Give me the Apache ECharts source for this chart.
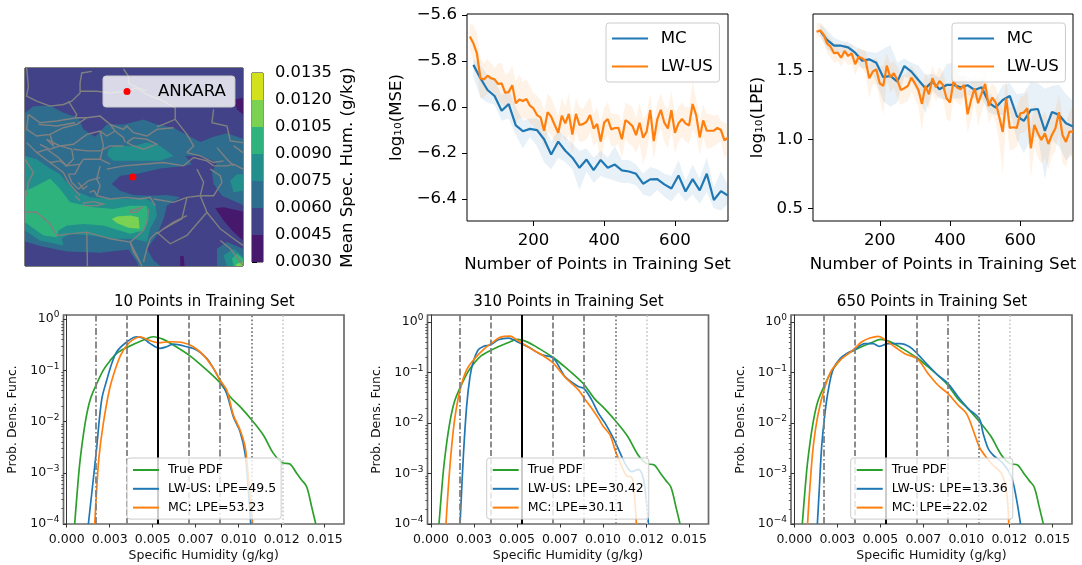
<!DOCTYPE html>
<html><head><meta charset="utf-8">
<style>html,body{margin:0;padding:0;background:#fff}#c{width:1082px;height:565px}</style>
<script src="https://cdn.jsdelivr.net/npm/echarts@6/dist/echarts.min.js"></script>
</head><body><div id="c"></div>
<script>
// ---------- training curves ----------
const mcN=[30,50,70,90,110,130,150,170,190,210,230,250,270,290,310,330,350,370,390,410,430,450,470,490,510,530,550,570,590,610,630,650,670,690,710,730,750];
const lwN=[20,30,40,50,60,70,80,90,100,110,120,130,140,150,160,170,180,190,200,210,220,230,240,250,260,270,280,290,300,310,320,330,340,350,360,370,380,390,400,410,420,430,440,450,460,470,480,490,500,510,520,530,540,550,560,570,580,590,600,610,620,630,640,650,660,670,680,690,700,710,720,730,740,750];
const mseMC=[-5.817,-5.875,-5.926,-5.952,-6.016,-5.987,-6.08,-6.105,-6.095,-6.10,-6.14,-6.206,-6.15,-6.19,-6.22,-6.264,-6.228,-6.274,-6.23,-6.264,-6.25,-6.275,-6.28,-6.29,-6.333,-6.314,-6.313,-6.336,-6.354,-6.297,-6.367,-6.313,-6.362,-6.29,-6.404,-6.365,-6.385];
const mseMCHi=[-5.79,-5.82,-5.86,-5.88,-5.95,-5.92,-6.0,-6.06,-6.05,-6.05,-6.08,-6.15,-6.10,-6.13,-6.16,-6.19,-6.18,-6.22,-6.19,-6.22,-6.17,-6.23,-6.23,-6.25,-6.29,-6.26,-6.27,-6.29,-6.30,-6.23,-6.32,-6.25,-6.31,-6.22,-6.35,-6.28,-6.34];
const mseMCLo=[-5.87,-5.96,-5.98,-5.99,-6.06,-6.05,-6.12,-6.18,-6.13,-6.17,-6.24,-6.27,-6.22,-6.24,-6.27,-6.36,-6.28,-6.33,-6.30,-6.31,-6.32,-6.33,-6.33,-6.34,-6.38,-6.39,-6.36,-6.39,-6.41,-6.37,-6.41,-6.38,-6.42,-6.37,-6.44,-6.45,-6.42];
const mseLW=[-5.694,-5.723,-5.767,-5.875,-5.88,-5.864,-5.875,-5.88,-5.90,-5.897,
-5.938,-5.935,-5.905,-5.984,-5.967,-5.974,-5.965,-5.994,-6.006,-6.035,
-6.045,-6.103,-6.022,-6.042,-6.078,-6.112,-6.038,-6.071,-6.03,-6.12,
-6.03,-6.078,-6.074,-6.064,-6.035,-6.093,-6.074,-6.15,-6.067,-6.052,
-6.097,-6.091,-6.09,-6.14,-6.057,-6.068,-6.083,-6.122,-6.068,-6.133,
-6.107,-6.013,-6.148,-6.054,-6.012,-6.068,-6.093,-6.014,-6.112,-6.071,
-6.052,-6.071,-6.08,-5.987,-6.035,-6.132,-6.058,-6.103,-6.103,-6.103,
-6.091,-6.10,-6.145,-6.133];
const mseLWHi=[-5.64,-5.645,-5.68,-5.79,-5.81,-5.79,-5.81,-5.83,-5.81,-5.81,
-5.86,-5.85,-5.82,-5.89,-5.86,-5.89,-5.88,-5.91,-5.94,-5.95,
-5.97,-6.02,-5.94,-5.96,-6.0,-6.04,-5.96,-6.0,-5.94,-6.05,
-5.96,-6.0,-6.01,-5.98,-5.96,-6.03,-6.0,-6.07,-6.0,-5.98,
-6.03,-6.03,-6.03,-6.07,-5.98,-5.99,-6.0,-6.05,-5.98,-6.05,
-6.03,-5.94,-6.07,-5.98,-5.94,-5.99,-6.01,-5.93,-6.03,-6.0,
-5.98,-6.0,-6.0,-5.89,-5.97,-6.06,-5.99,-6.03,-6.03,-6.04,
-6.03,-6.06,-6.07,-6.07];
const mseLWLo=[-5.75,-5.80,-5.85,-5.96,-5.96,-5.94,-5.94,-5.95,-5.98,-5.98,
-6.01,-6.0,-5.99,-6.07,-6.05,-6.05,-6.05,-6.07,-6.08,-6.10,
-6.12,-6.18,-6.11,-6.12,-6.15,-6.19,-6.11,-6.15,-6.12,-6.2,
-6.11,-6.15,-6.15,-6.14,-6.11,-6.17,-6.15,-6.24,-6.15,-6.12,
-6.17,-6.17,-6.16,-6.22,-6.14,-6.16,-6.17,-6.2,-6.16,-6.25,
-6.2,-6.1,-6.23,-6.14,-6.09,-6.15,-6.18,-6.1,-6.2,-6.15,
-6.13,-6.15,-6.16,-6.1,-6.12,-6.21,-6.13,-6.18,-6.18,-6.17,
-6.16,-6.15,-6.22,-6.2];
const lpeMC=[1.794,1.726,1.684,1.684,1.672,1.633,1.575,1.585,1.56,1.454,1.464,1.422,1.536,1.495,1.434,1.374,1.422,1.367,1.398,1.398,1.381,1.396,1.362,1.381,1.27,1.233,1.289,1.318,1.172,1.136,1.216,1.223,1.063,1.201,1.18,1.119,1.095];
const lpeMCHi=[1.84,1.80,1.74,1.72,1.71,1.68,1.65,1.64,1.63,1.66,1.69,1.56,1.59,1.56,1.54,1.47,1.48,1.45,1.55,1.56,1.46,1.46,1.43,1.45,1.34,1.30,1.40,1.41,1.33,1.34,1.42,1.41,1.37,1.39,1.40,1.33,1.28];
const lpeMCLo=[1.76,1.66,1.62,1.63,1.62,1.58,1.52,1.52,1.42,1.28,1.24,1.27,1.46,1.43,1.33,1.19,1.36,1.30,1.29,1.30,1.30,1.33,1.30,1.30,1.20,1.18,1.18,1.22,1.00,0.90,1.00,1.03,0.71,1.00,0.95,0.85,0.90];
const lpeLW=[1.786,1.794,1.767,1.70,1.677,1.629,1.633,1.597,1.646,1.609,
1.629,1.549,1.604,1.592,1.573,1.447,1.495,1.512,1.41,1.391,
1.539,1.454,1.483,1.434,1.362,1.374,1.391,1.451,1.41,1.362,
1.26,1.391,1.33,1.447,1.381,1.427,1.398,1.301,1.27,1.427,
1.379,1.367,1.398,1.184,1.289,1.374,1.265,1.337,1.405,1.245,
1.306,1.27,1.167,1.056,1.301,1.085,1.09,1.085,1.192,1.197,
1.228,0.937,1.107,1.046,0.998,1.046,0.968,1.034,1.083,1.199,
1.034,0.983,1.058,1.058];
const lpeLWHi=[1.85,1.85,1.83,1.77,1.74,1.70,1.70,1.67,1.71,1.68,
1.70,1.63,1.67,1.66,1.65,1.54,1.58,1.60,1.53,1.54,
1.63,1.55,1.57,1.53,1.47,1.47,1.49,1.54,1.50,1.46,
1.38,1.49,1.44,1.54,1.47,1.53,1.49,1.40,1.39,1.55,
1.47,1.46,1.49,1.33,1.42,1.48,1.42,1.44,1.51,1.36,
1.41,1.38,1.30,1.22,1.44,1.24,1.24,1.23,1.31,1.32,
1.35,1.10,1.26,1.20,1.16,1.21,1.13,1.19,1.22,1.33,
1.18,1.13,1.20,1.25];
const lpeLWLo=[1.74,1.75,1.71,1.63,1.60,1.56,1.57,1.53,1.58,1.54,
1.56,1.47,1.53,1.52,1.48,1.30,1.40,1.40,1.30,1.18,
1.44,1.34,1.38,1.30,1.25,1.27,1.28,1.35,1.30,1.24,
1.06,1.28,1.22,1.33,1.28,1.32,1.30,1.15,1.13,1.30,
1.27,1.25,1.30,1.05,1.15,1.28,1.10,1.20,1.28,1.12,
1.18,1.13,0.98,0.75,1.15,0.92,0.93,0.95,1.05,1.05,
1.08,0.72,0.95,0.87,0.82,0.87,0.78,0.88,0.92,1.05,
0.83,0.80,0.90,0.85];

// ---------- PDF curves ----------
const trueX=[.000465,.00062,.00078,.00107,.00136,.00171,.00213,.00252,.00291,.00351,.00446,.00504,.00562,.0062,.00711,.00775,.00853,.00891,.0095,.01008,.01076,.01143,.01202,.01254,.01298,.01337,.01366,.01395,.01424,.01448];
const trueY=[1e-4,4.6e-4,.00177,.0092,.0263,.0515,.101,.154,.214,.28,.389,.452,.401,.311,.198,.132,.0773,.0573,.0305,.0195,.0107,.00546,.00239,.00157,.00148,.000975,.000723,.000535,.000218,1e-4];
const lw10X=[.00126,.00171,.00203,.00233,.00262,.00291,.00351,.00407,.00446,.00484,.00543,.00581,.0062,.00698,.00756,.00814,.00853,.00891,.0093,.00969,.01008,.01037,.01056,.0107];
const lw10Y=[1e-4,.00239,.0263,.0645,.136,.231,.361,.452,.42,.335,.268,.288,.325,.288,.248,.171,.109,.0645,.0355,.0124,.00634,.00239,.00046,1e-4];
const mc10X=[.00163,.00174,.00188,.00213,.00248,.00281,.00314,.00351,.00388,.00426,.00475,.00533,.00601,.00678,.00736,.00795,.00853,.00891,.0093,.00969,.01008,.01037,.01056,.01081];
const mc10Y=[1e-4,.00046,.00206,.0092,.0412,.101,.198,.311,.401,.452,.389,.345,.361,.345,.288,.198,.109,.0645,.0412,.0134,.00683,.00323,.00084,1e-4];
const lw310X=[.00169,.00188,.00207,.00227,.00246,.00275,.00304,.00347,.00391,.0045,.00498,.00566,.00643,.00711,.00779,.00857,.00891,.00934,.00973,.01012,.0106,.01109,.01138,.01167,.01205,.01234,.01254,.01264];
const lw310Y=[1e-4,.00217,.0212,.0836,.166,.283,.329,.355,.447,.482,.414,.319,.225,.193,.0836,.053,.0476,.0288,.0157,.00993,.005,.00217,.00137,.00109,.00121,.000805,.000257,1e-4];
const mc310X=[.00087,.00101,.0012,.0014,.00169,.00207,.00256,.00314,.00353,.00401,.00459,.00498,.00566,.00643,.00711,.00779,.00857,.00891,.00934,.00973,.01002,.01041,.0107,.01109,.01138,.01167,.01182,.01194];
const mc310Y=[1e-4,.00055,.00342,.0135,.0455,.113,.193,.305,.383,.497,.528,.447,.319,.225,.154,.0811,.0455,.0311,.0197,.0125,.00853,.00582,.00294,.00137,.000895,.000843,.000406,1e-4];
const lw650X=[.00134,.00145,.00159,.00178,.00201,.00227,.00265,.00304,.0035,.0041,.00458,.00494,.00546,.00614,.00672,.00714,.00778,.00836,.00894,.00953,.01011,.01075,.01098,.01127,.01156,.01214,.01262,.01291,.01315];
const lw650Y=[1e-4,.00047,.00338,.0154,.0519,.119,.188,.237,.284,.373,.373,.33,.373,.373,.321,.237,.139,.0883,.0604,.0329,.0194,.0123,.0062,.00313,.00231,.00158,.000863,.000321,1e-4];
const mc650X=[.00077,.00091,.0011,.00139,.00178,.00217,.00265,.00314,.0035,.00391,.0044,.00488,.00532,.00585,.00643,.00714,.00778,.00836,.00894,.00953,.01001,.0104,.01075,.01107,.01146,.01204,.01233,.01247];
const mc650Y=[1e-4,.00055,.00338,.0154,.0519,.111,.175,.237,.297,.403,.483,.521,.434,.321,.237,.188,.0952,.056,.0383,.0225,.0154,.00721,.00338,.00231,.00158,.001,.00047,1e-4];

const refLines=[.0017,.0035,.0053,.0071,.0089,.01074,.01254];
const humTicks=[0,.0025,.005,.0075,.01,.0125,.015];
const humLabels=['0.000','0.003','0.005','0.007','0.010','0.012','0.015'];
const logTicks=[1e-4,1e-3,1e-2,1e-1,1];
const logLabels=['{a|10}{b|−4}','{a|10}{b|−3}','{a|10}{b|−2}','{a|10}{b|−1}','{a|10}{b|0}'];
const logMinor=[2e-4,3e-4,4e-4,5e-4,6e-4,7e-4,8e-4,9e-4,2e-3,3e-3,4e-3,5e-3,6e-3,7e-3,8e-3,9e-3,2e-2,3e-2,4e-2,5e-2,6e-2,7e-2,8e-2,9e-2,.2,.3,.4,.5,.6,.7,.8,.9];

// ---------- colour bar ----------
const cbLevels=[.003,.0045,.006,.0075,.009,.0105,.012,.0135];
const cbColors=['#46196c','#414287','#2f6d8e','#238f8c','#2fb37c','#7bd151','#d2e11b'];
const cbLabels=['0.0030','0.0045','0.0060','0.0075','0.0090','0.0105','0.0120','0.0135'];

// ---------- map (contour bands and borders, in map-grid units) ----------
const mapXRange=[75,728], mapYRange=[55,652];
const ankara=[398,384];
const mapBands=[
 [1,[[75,55],[728,55],[728,652],[75,652]]],
 [2,[[75,190],[100,170],[150,168],[190,190],[235,205],[250,240],[285,262],[320,225],[370,225],[430,210],[470,225],[520,235],[570,262],[600,278],[640,262],[680,252],[728,268],[728,652],[75,652]]],
 [1,[[335,405],[360,380],[420,372],[480,358],[540,352],[575,345],[555,320],[600,318],[650,340],[635,370],[640,405],[665,440],[728,468],[728,652],[480,652],[460,635],[440,600],[470,560],[490,510],[500,470],[540,445],[500,438],[450,440],[400,438],[360,425]]],
 [1,[[75,578],[120,592],[200,608],[300,612],[385,602],[410,640],[415,652],[75,652]]],
 [2,[[650,600],[680,580],[728,600],[728,652],[650,652]]],
 [3,[[325,300],[345,290],[400,290],[440,280],[480,290],[520,320],[480,335],[400,335],[340,335],[322,320]]],
 [3,[[690,395],[710,375],[728,375],[728,425],[700,430]]],
 [3,[[75,320],[110,330],[145,355],[180,375],[200,400],[225,425],[270,445],[330,450],[380,450],[430,445],[465,465],[470,500],[450,540],[440,580],[400,570],[340,570],[270,560],[210,555],[185,570],[190,590],[120,575],[75,545]]],
 [3,[[670,620],[700,600],[728,625],[728,652],[680,652]]],
 [4,[[75,425],[100,415],[150,388],[180,420],[210,460],[280,475],[340,480],[390,470],[440,470],[445,510],[430,545],[390,555],[310,530],[250,525],[200,530],[175,545],[170,565],[130,560],[75,520]]],
 [4,[[695,630],[710,615],[728,630],[728,652],[700,652]]],
 [5,[[335,510],[350,503],[390,500],[415,505],[418,540],[385,537],[350,522]]],
 [5,[[710,645],[728,640],[728,652],[705,652]]],
 [0,[[703,150],[728,145],[728,195],[710,180]]],
 [0,[[645,478],[670,475],[728,488],[728,575],[695,545],[670,515]]],
 [0,[[540,622],[550,622],[553,652],[540,652]]]
];
const mapBorders=[
 [[80,55],[85,110],[80,140],[110,155],[150,170],[190,165],[215,155],[240,130],[240,100],[245,70],[275,65]],
 [[240,125],[290,125],[330,130],[375,125],[410,115],[440,135],[480,150],[525,175],[525,210],[490,225],[470,232]],
 [[370,58],[385,80],[385,100],[400,110],[440,125]],
 [[205,155],[230,195],[225,205]],
 [[85,195],[120,220],[170,215],[230,205],[260,205],[300,200],[330,225],[370,240],[380,230],[400,250],[440,260],[470,240],[520,235]],
 [[330,225],[345,245],[370,265],[375,280]],
 [[85,195],[80,240],[110,260],[150,255],[190,235],[230,225],[260,205]],
 [[115,225],[170,230],[225,220]],
 [[140,270],[180,290],[220,285],[260,255],[300,245],[320,260],[345,245]],
 [[220,300],[260,305],[300,305],[330,290],[370,290]],
 [[250,330],[300,330],[330,345]],
 [[180,290],[215,300],[220,330],[200,350],[240,345],[250,330]],
 [[150,255],[160,290],[140,270]],
 [[80,280],[110,310],[150,340],[190,370],[205,400],[240,440]],
 [[75,330],[100,370],[85,400],[80,440]],
 [[205,375],[215,400],[235,420],[265,395],[300,385]],
 [[320,360],[370,350],[430,345],[490,340],[550,350],[580,325],[620,335],[640,350]],
 [[300,350],[290,390],[300,410],[290,440],[330,450]],
 [[330,450],[380,445],[420,450],[450,445],[465,470]],
 [[460,450],[520,460],[560,445],[600,440]],
 [[590,360],[610,400],[600,440]],
 [[600,440],[620,490],[660,540],[700,570],[728,590]],
 [[560,445],[545,510],[490,540],[470,555]],
 [[470,550],[510,585],[560,560],[620,490]],
 [[430,640],[440,600],[450,570],[470,550]],
 [[445,480],[440,520],[430,545],[390,580],[410,620],[425,652]],
 [[75,490],[110,490],[150,525],[170,560],[210,555],[260,550],[330,570],[390,580]],
 [[260,550],[262,652]],
 [[390,580],[400,610],[420,640]],
 [[250,462],[280,458],[310,465],[290,470],[250,470],[250,462]],
 [[390,485],[425,475],[410,490],[390,490],[390,485]],
 [[235,400],[250,420],[262,410]],[[268,430],[282,425],[290,440]],[[225,440],[240,455]],
 [[640,350],[680,350],[700,345],[728,360]],
 [[640,180],[635,220],[680,230],[690,275],[728,280]],
 [[650,295],[680,330],[700,350]],
 [[700,290],[728,310]],
 [[560,310],[600,320],[640,340],[670,335]],
 [[630,360],[660,380],[665,400]],
 [[660,575],[690,600],[728,650]],
 [[300,245],[310,290],[300,330]],
 [[380,280],[400,265],[440,270],[470,285],[430,300],[400,290],[380,280]],
 [[525,210],[560,255],[580,290],[560,310]],
 [[120,285],[150,300],[180,290]],
 [[110,310],[140,300],[175,325],[200,350]],
 [[150,340],[180,335],[200,350]],
 [[240,345],[225,375],[205,375]],
 [[600,440],[640,440],[665,400]],
 [[490,540],[520,520],[560,500]]
];

// ---------- helpers ----------
const BLUE='#1f77b4',ORANGE='#ff7f0e',GREEN='#2ca02c';
const zip=(a,b)=>a.map((v,i)=>[v,b[i]]);
const FONT='"DejaVu Sans"';
function band(xi,xs,lo,hi,color){
  return {type:'custom',xAxisIndex:xi,yAxisIndex:xi,clip:true,silent:true,z:1,data:[0],
    renderItem:(p,api)=>{
      const pts=[];
      xs.forEach((x,i)=>pts.push(api.coord([x,hi[i]])));
      for(let i=xs.length-1;i>=0;i--)pts.push(api.coord([xs[i],lo[i]]));
      return {type:'polygon',shape:{points:pts},style:{fill:color,opacity:.1}};
    }};
}
function line(name,xi,data,color,w,smooth){
  return {type:'line',name,xAxisIndex:xi,yAxisIndex:xi,data,symbol:'none',smooth:smooth||false,clip:true,silent:true,z:3,
    lineStyle:{color,width:w},itemStyle:{color}};
}
function legend(names,left,top,fs,itemW,pad,h,gap,tp,hideMarker){
  return {data:names,orient:'vertical',left,top,padding:pad,itemWidth:itemW,itemHeight:h,itemGap:gap,selectedMode:false,z:10,
    backgroundColor:'rgba(255,255,255,0.8)',borderColor:'#ccc',borderWidth:1,borderRadius:3,
    itemStyle:hideMarker?{opacity:0}:{},
    textStyle:{fontFamily:FONT,fontSize:fs,color:'#000',padding:[0,0,0,tp]}};
}
const grids=[],xAxes=[],yAxes=[],series=[],legends=[],titles=[];

// map (axis 0)
grids.push({left:25,top:68,width:218,height:198,show:true,borderColor:'#000',borderWidth:1,backgroundColor:'transparent'});
xAxes.push({type:'value',gridIndex:0,min:mapXRange[0],max:mapXRange[1],show:false});
yAxes.push({type:'value',gridIndex:0,min:mapYRange[0],max:mapYRange[1],inverse:true,show:false});
series.push({type:'custom',xAxisIndex:0,yAxisIndex:0,clip:true,silent:true,z:1,data:mapBands.map((b,i)=>i),
  renderItem:(p,api)=>{const b=mapBands[p.dataIndex];
    return {type:'polygon',shape:{points:b[1].map(c=>api.coord(c))},style:{fill:cbColors[b[0]]}};}});
series.push({type:'custom',xAxisIndex:0,yAxisIndex:0,clip:true,silent:true,z:2,data:mapBorders.map((b,i)=>i),
  renderItem:(p,api)=>({type:'polyline',shape:{points:mapBorders[p.dataIndex].map(c=>api.coord(c))},
    style:{stroke:'#808080',fill:'none',lineWidth:1.4}})});
series.push({type:'scatter',name:'ANKARA',xAxisIndex:0,yAxisIndex:0,data:[ankara],symbolSize:7,silent:true,z:5,itemStyle:{color:'#ff0000',opacity:1}});
legends.push(legend(['ANKARA'],103,76,16.6,7,[7,9,7,20.5],7,0,22.5));

// colour bar (axis 1)
grids.push({left:252,top:73,width:11,height:189,show:true,borderColor:'#222',borderWidth:1});
xAxes.push({type:'value',gridIndex:1,min:0,max:1,show:false});
yAxes.push({type:'value',gridIndex:1,min:cbLevels[0],max:cbLevels[7],position:'right',splitLine:{show:false},
  axisLine:{show:false},axisTick:{customValues:cbLevels,length:5,lineStyle:{color:'#000'}},
  axisLabel:{customValues:cbLevels,formatter:v=>cbLabels[cbLevels.findIndex(l=>Math.abs(l-v)<1e-6)],fontFamily:FONT,fontSize:16.3,color:'#000',margin:12},
  name:'Mean Spec. Hum. (g/kg)',nameLocation:'middle',nameRotate:90,nameGap:76,nameTextStyle:{fontFamily:FONT,fontSize:16.6,color:'#000'}});
series.push({type:'custom',xAxisIndex:1,yAxisIndex:1,silent:true,z:1,data:cbColors.map((c,i)=>i),
  renderItem:(p,api)=>{const i=p.dataIndex,a=api.coord([0,cbLevels[i+1]]),b=api.coord([1,cbLevels[i]]);
    return {type:'rect',shape:{x:a[0],y:a[1],width:b[0]-a[0],height:b[1]-a[1]},style:{fill:cbColors[i]}};}});

// top line panels (axes 2,3)
function topPanel(i,rect,xr,yr,yTicks,yFmt,yName,nameGap,mc,mcLo,mcHi,lw,lwLo,lwHi,lg){
  grids.push({left:rect[0],top:rect[1],width:rect[2],height:rect[3],show:true,borderColor:'#000',borderWidth:1});
  const ax={fontFamily:FONT,fontSize:16.6,color:'#000'};
  xAxes.push({type:'value',gridIndex:i,min:xr[0],max:xr[1],splitLine:{show:false},axisLine:{show:false},
    axisTick:{customValues:[200,400,600],length:5,lineStyle:{color:'#000'}},
    axisLabel:{customValues:[200,400,600],...ax,margin:11.5},
    name:'Number of Points in Training Set',nameLocation:'middle',nameGap:35,nameTextStyle:ax});
  yAxes.push({type:'value',gridIndex:i,min:yr[0],max:yr[1],splitLine:{show:false},axisLine:{show:false},
    axisTick:{customValues:yTicks,length:5,lineStyle:{color:'#000'}},
    axisLabel:{customValues:yTicks,formatter:yFmt,...ax,margin:10},
    name:yName,nameLocation:'middle',nameRotate:90,nameGap,nameTextStyle:ax});
  series.push(band(i,mcN,mcLo,mcHi,BLUE),band(i,lwN,lwLo,lwHi,ORANGE),
    line('MC',i,zip(mcN,mc),BLUE,2.2),line('LW-US',i,zip(lwN,lw),ORANGE,2.2));
  legends.push(legend(['MC','LW-US'],lg[0],lg[1],16.6,36,[7,6.6,7,5],14,11,7.7,true));
}
topPanel(2,[467,14,261,207],[12,750],[-6.495,-5.596],[-6.4,-6.2,-6,-5.8,-5.6],v=>'−'+Math.abs(v).toFixed(1),'log₁₀(MSE)',62,
  mseMC,mseMCLo,mseMCHi,mseLW,mseLWLo,mseLWHi,[606,23]);
topPanel(3,[813,14,260,207],[10,750],[.407,1.915],[.5,1,1.5],v=>v.toFixed(1),'log₁₀(LPE)',47,
  lpeMC,lpeMCLo,lpeMCHi,lpeLW,lpeLWLo,lpeLWHi,[952,23]);

// bottom PDF panels (axes 4,5,6 and minor-tick axes)
function pdfPanel(i,rect,x0,yTop,title,lwName,mcName,lwXY,mcXY,lg){
  const pxPerUnit=17200, xMin=-(x0-rect[0])/pxPerUnit, xMax=(rect[0]+rect[2]-x0)/pxPerUnit;
  grids.push({left:rect[0],top:rect[1],width:rect[2],height:rect[3],show:true,borderColor:'#6a6a6a',borderWidth:1.7});
  const ax={fontFamily:FONT,fontSize:12.5,color:'#111'};
  xAxes.push({type:'value',gridIndex:i,min:xMin,max:xMax,splitLine:{show:false},axisLine:{show:false},
    axisTick:{customValues:humTicks,length:3.5,lineStyle:{color:'#333'}},
    axisLabel:{customValues:humTicks,formatter:v=>humLabels[humTicks.findIndex(t=>Math.abs(t-v)<1e-6)],...ax,margin:9.5},
    name:'Specific Humidity (g/kg)',nameLocation:'middle',nameGap:25,nameTextStyle:ax});
  yAxes.push({type:'log',gridIndex:i,min:1e-4,max:yTop,splitLine:{show:false},axisLine:{show:true,lineStyle:{color:'#333',width:1}},minorTick:{show:false},
    axisTick:{customValues:logTicks,length:3.5,lineStyle:{color:'#333'}},
    axisLabel:{customValues:logTicks,formatter:v=>logLabels[logTicks.findIndex(t=>Math.abs(Math.log10(t)-Math.log10(v))<1e-3)],
      color:'#111',margin:4,rich:{a:{fontFamily:FONT,fontSize:12.5,color:'#111',lineHeight:17},b:{fontFamily:FONT,fontSize:9,color:'#111',lineHeight:11,verticalAlign:'top'}}},
    name:'Prob. Dens. Func.',nameLocation:'middle',nameRotate:90,nameGap:44,nameTextStyle:ax});
  const s=line('True PDF',i,zip(trueX,trueY),GREEN,1.7,.35);
  const kind=[['dashdot','#808080',1.8],['dashed','#808080',1.8],['solid','#000',2],['dashed','#808080',1.8],['dashdot','#808080',1.8],['dotted','#808080',1.8],['dotted','#cfcfcf',1.8]];
  const dash={solid:'solid',dashed:[6,2.5],dashdot:[7,2.5,1.5,2.5],dotted:[1.7,2.2]};
  s.markLine={silent:true,symbol:'none',animation:false,label:{show:false},precision:6,
    data:refLines.map((x,k)=>({xAxis:x,lineStyle:{type:dash[kind[k][0]],color:kind[k][1],width:kind[k][2]}}))};
  series.push(s,line(lwName,i,zip(lwXY[0],lwXY[1]),BLUE,1.7,.35),line(mcName,i,zip(mcXY[0],mcXY[1]),ORANGE,1.7,.35));
  legends.push(legend(['True PDF',lwName,mcName],lg,458,12.5,26,[5.5,5,5,5],13,5.8,4,true));
  titles.push({text:title,left:rect[0]+rect[2]/2-4.5,top:289.5,textAlign:'center',textStyle:{fontFamily:FONT,fontSize:15,fontWeight:'normal',color:'#000'}});
}
pdfPanel(4,[63.5,315,280.5,209],66.7,1.2,'10 Points in Training Set','LW-US: LPE=49.5','MC: LPE=53.23',[lw10X,lw10Y],[mc10X,mc10Y],127);
pdfPanel(5,[427.5,315,281,209],431,1.38,'310 Points in Training Set','LW-US: LPE=30.42','MC: LPE=30.11',[lw310X,lw310Y],[mc310X,mc310Y],486.7);
pdfPanel(6,[791,315,281,209],794.3,1.38,'650 Points in Training Set','LW-US: LPE=13.36','MC: LPE=22.02',[lw650X,lw650Y],[mc650X,mc650Y],850.7);

// minor log ticks on companion axes
[4,5,6].forEach(i=>{
  yAxes.push({type:'log',gridIndex:i,min:yAxes[i].min,max:yAxes[i].max,position:'left',splitLine:{show:false},axisLine:{show:false},
    minorTick:{show:false},axisLabel:{show:false},axisTick:{customValues:logMinor,length:2.2,lineStyle:{color:'#333',width:.8}}});
});

const chart=echarts.init(document.getElementById('c'),null,{renderer:'canvas'});
chart.setOption({animation:false,backgroundColor:'#fff',title:titles,legend:legends,grid:grids,xAxis:xAxes,yAxis:yAxes,series});
</script></body></html>
